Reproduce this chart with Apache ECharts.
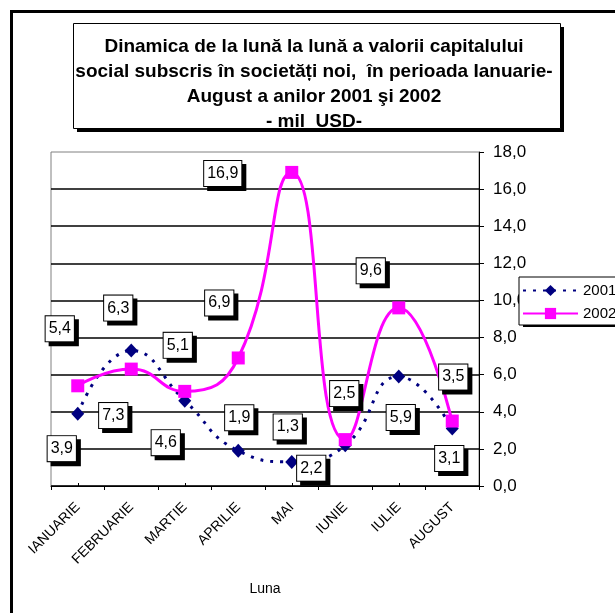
<!DOCTYPE html>
<html>
<head>
<meta charset="utf-8">
<script src="https://cdn.jsdelivr.net/npm/echarts@6/dist/echarts.min.js"></script>
<style>
    html, body {
        margin: 0;
        padding: 0;
        background-color: #fff;
    }
    #capital-chart {
        width: 615px;
        height: 613px;
    }
</style>
</head>
<body>
<div id="capital-chart"></div>
<script>
    // luni
    let luni = ['IANUARIE', 'FEBRUARIE', 'MARTIE', 'APRILIE', 'MAI', 'IUNIE', 'IULIE', 'AUGUST'];
    // valori, mil USD
    let valori2001 = [3.9, 7.3, 4.6, 1.9, 1.3, 2.2, 5.9, 3.1];
    let valori2002 = [5.4, 6.3, 5.1, 6.9, 16.9, 2.5, 9.6, 3.5];
    let yTicks = [0, 2, 4, 6, 8, 10, 12, 14, 16, 18];

    // unde stau etichetele fata de punct (px)
    let offset2001 = [[-16, 35], [-18, 65], [-19, 42], [1, -33], [-4, -35], [-34, 23], [2, 41], [-3, 30]];
    let offset2002 = [[-18, -57], [-13, -61], [-7, -46], [-19, -55], [-69, 1], [-1, -46], [-28, -37], [1, -44]];

    let fmt = function (v) {
        return v.toFixed(1).replace('.', ',');
    };

    let labelBox = {
        show: true,
        position: 'inside',
        color: '#000',
        fontFamily: 'Liberation Sans',
        fontSize: 16,
        lineHeight: 18,
        backgroundColor: '#fff',
        borderColor: '#000',
        borderWidth: 1,
        padding: [4, 3, 3, 3],
        shadowColor: '#000',
        shadowOffsetX: 4,
        shadowOffsetY: 4,
        shadowBlur: 0,
        formatter: function (p) {
            return fmt(p.value);
        }
    };

    let withLabels = function (values, offsets) {
        return values.map(function (v, i) {
            return {value: v, label: {offset: offsets[i]}};
        });
    };

    let titleLines = [
        'Dinamica de la lună la lună a valorii capitalului',
        'social subscris în societăți noi,  în perioada Ianuarie-',
        'August a anilor 2001 şi 2002',
        '- mil  USD-'
    ];

    let chartOption = {
        animation: false,
        textStyle: {fontFamily: 'Liberation Sans'},
        graphic: [
            // rama
            {
                type: 'rect', z: 0,
                shape: {x: 11.5, y: 11.5, width: 800, height: 800},
                style: {fill: 'none', stroke: '#000', lineWidth: 3}
            },
            // titlu
            {
                type: 'rect', z: 10,
                shape: {x: 77, y: 27, width: 487, height: 105},
                style: {fill: '#000'}
            },
            {
                type: 'rect', z: 11,
                shape: {x: 73.5, y: 23.5, width: 487, height: 105},
                style: {fill: '#fff', stroke: '#000', lineWidth: 1}
            },
            {
                type: 'text', z: 12,
                x: 314, y: 34,
                style: {
                    text: titleLines.join('\n'),
                    align: 'center',
                    verticalAlign: 'top',
                    fontFamily: 'Liberation Sans',
                    fontWeight: 'bold',
                    fontSize: 19,
                    lineHeight: 25,
                    fill: '#000'
                }
            },
            // umbra legenda
            {
                type: 'rect', z: 1,
                shape: {x: 523, y: 281, width: 120, height: 46},
                style: {fill: '#000'}
            }
        ],
        legend: {
            data: ['2001', '2002'],
            orient: 'vertical',
            left: 519,
            top: 277,
            itemWidth: 55,
            itemHeight: 14,
            itemGap: 8,
            padding: [6, 40, 4, 3],
            backgroundColor: '#fff',
            borderColor: '#000',
            borderWidth: 1,
            textStyle: {fontSize: 15, color: '#000', fontFamily: 'Liberation Sans'}
        },
        grid: {
            left: 51,
            right: 136,
            top: 152,
            bottom: 127,
            show: true,
            borderColor: '#808080',
            borderWidth: 1,
            backgroundColor: 'transparent'
        },
        xAxis: [
            {
                type: 'category',
                data: luni,
                boundaryGap: true,
                name: 'Luna',
                nameLocation: 'middle',
                nameGap: 96,
                nameTextStyle: {fontSize: 14, color: '#000'},
                axisLine: {lineStyle: {color: '#000', width: 1}},
                axisTick: {show: true, length: 4, lineStyle: {color: '#000'}},
                axisLabel: {
                    rotate: 45,
                    margin: 19,
                    fontSize: 14,
                    color: '#000',
                    interval: 0
                },
                splitLine: {show: false}
            },
            {
                type: 'category',
                data: luni,
                position: 'bottom',
                boundaryGap: true,
                axisLine: {show: false},
                axisTick: {show: true, inside: true, alignWithLabel: true, length: 3, lineStyle: {color: '#000'}},
                axisLabel: {show: false},
                splitLine: {show: false}
            }
        ],
        yAxis: {
            type: 'value',
            position: 'right',
            min: yTicks[0],
            max: yTicks[yTicks.length - 1],
            interval: yTicks[1] - yTicks[0],
            axisLine: {show: true, lineStyle: {color: '#000', width: 1}},
            axisTick: {show: true, length: 5, lineStyle: {color: '#000'}},
            axisLabel: {
                margin: 14,
                fontSize: 17,
                color: '#000',
                formatter: fmt
            },
            splitLine: {
                show: true,
                showMaxLine: false,
                lineStyle: {color: '#000', width: 1.5}
            }
        },
        series: [
            {
                name: '2001',
                type: 'line',
                data: withLabels(valori2001, offset2001),
                smooth: 0.5,
                symbol: 'diamond',
                symbolSize: [13, 14],
                itemStyle: {color: '#000080'},
                lineStyle: {color: '#000080', width: 3, type: [3, 7]},
                label: labelBox,
                z: 3
            },
            {
                name: '2002',
                type: 'line',
                data: withLabels(valori2002, offset2002),
                smooth: 0.5,
                symbol: 'rect',
                symbolSize: 13,
                itemStyle: {color: '#ff00ff'},
                lineStyle: {color: '#ff00ff', width: 3, type: 'solid'},
                label: labelBox,
                z: 4
            }
        ]
    };

    let capitalChart = echarts.init(document.getElementById('capital-chart'));
    capitalChart.setOption(chartOption);
</script>
</body>
</html>
